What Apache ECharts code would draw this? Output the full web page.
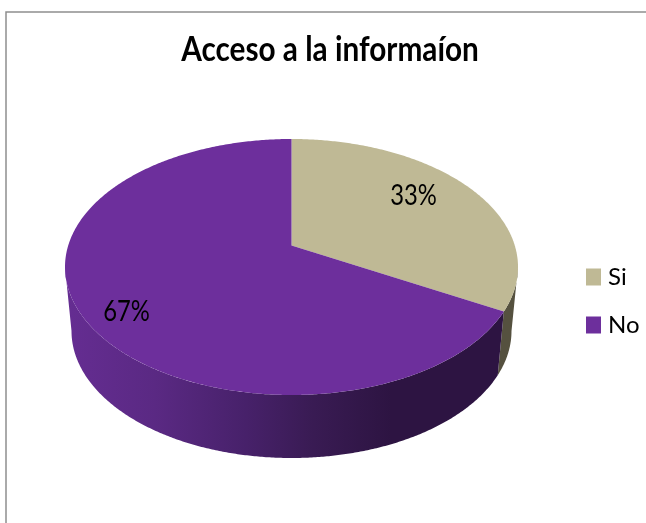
<!DOCTYPE html>
<html><head><meta charset="utf-8">
<style>html,body{margin:0;padding:0;background:#fff}#c{width:646px;height:523px}</style>
<script src="https://cdn.jsdelivr.net/npm/echarts@6/dist/echarts.min.js"></script>
</head><body><div id="c"></div>
<script>
const titleText = 'Acceso a la informaíon';
const categories = ['Si', 'No'];
const values = [33, 67];
const sliceColors = ['#BFB995', '#6D2F9C'];
const FONT = 'Lato,"Open Sans",sans-serif';

const total = values.reduce((a, b) => a + b, 0);
const top3d = { cx: 291.5, cy: 267, rx: 226.5, ry: 128 };
const base3d = { cx: 291.5, cy: 331, rx: 220, ry: 127 };
const apex = { x: 291.5, y: 245.6 };
const labelPlace = [{ r: 0.626, dy: -9 }, { r: 0.846, dy: 11 }];
const sideFill = [
  '#55513F',
  { type: 'linear', global: true, x: 65, y: 0, x2: 518, y2: 0, colorStops: [
    { offset: 0, color: '#652D92' }, { offset: 0.2, color: '#5A2983' },
    { offset: 0.4, color: '#47216A' }, { offset: 0.55, color: '#391B53' },
    { offset: 0.72, color: '#2D1442' }, { offset: 1, color: '#2D1442' }] }
];
const rad = d => d * Math.PI / 180;
// value angle (seen from the apex) -> angle along the rim of the top ellipse
function rimAngle(deg) {
  const py = (apex.y - top3d.cy) / top3d.ry;
  const dx = Math.sin(rad(deg)), dy = -Math.cos(rad(deg));
  const b = py * dy;
  const s = -b + Math.sqrt(b * b + 1 - py * py);
  const u = s * dx, v = py + s * dy;
  let t = Math.atan2(u, -v) * 180 / Math.PI;
  if (t < 0 || deg >= 360) t += 360;
  return t;
}
const pt = (e, t) => [e.cx + e.rx * Math.sin(rad(t)), e.cy - e.ry * Math.cos(rad(t))];
function arc(e, a, b) {
  const pts = [], n = Math.max(2, Math.ceil(Math.abs(b - a) * 2));
  for (let i = 0; i <= n; i++) pts.push(pt(e, a + (b - a) * i / n));
  return pts;
}
function startOf(i) { return values.slice(0, i).reduce((a, b) => a + b, 0) / total * 360; }

function renderSlice(i) {
  return function () {
    const a = startOf(i), b = a + values[i] / total * 360;
    const t0 = a === 0 ? 0 : rimAngle(a), t1 = b >= 360 ? 360 : rimAngle(b);
    const children = [];
    const s0 = Math.max(t0, 90), s1 = Math.min(t1, 270);
    if (s1 > s0) {
      children.push({ type: 'polygon',
        shape: { points: arc(top3d, s0, s1).concat(arc(base3d, s1, s0)) },
        style: { fill: sideFill[i] } });
    }
    children.push({ type: 'polygon',
      shape: { points: [[apex.x, apex.y]].concat(arc(top3d, t0, t1)) },
      style: { fill: sliceColors[i] } });
    const mid = (a + b) / 2, p = labelPlace[i];
    children.push({ type: 'text', z2: 10,
      x: apex.x + p.r * top3d.rx * Math.sin(rad(mid)),
      y: apex.y - p.r * top3d.ry * Math.cos(rad(mid)) + p.dy,
      scaleX: 0.85,
      style: {
        text: Math.round(values[i] / total * 100) + '%',
        fill: '#000', font: '28px ' + FONT, align: 'center', verticalAlign: 'middle' } });
    return { type: 'group', children };
  };
}

const chart = echarts.init(document.getElementById('c'), null, { renderer: 'canvas' });
chart.setOption({
  animation: false,
  backgroundColor: '#fff',
  legend: { orient: 'vertical', left: 586, top: 265, padding: 0, itemWidth: 15, itemHeight: 17, itemGap: 24,
    data: categories, icon: 'rect',
    textStyle: { fontFamily: FONT, fontSize: 24, color: '#000', padding: [0, 0, 0, 2] } },
  graphic: [{ type: 'polyline', silent: true,
    shape: { points: [[6, 523], [6, 12], [646, 12]] },
    style: { fill: null, stroke: '#8E8E8E', lineWidth: 1.5 } },
    { type: 'text', silent: true, x: 330, y: 50, scaleX: 0.85,
      style: { text: titleText, fill: '#000', font: 'bold 35px ' + FONT, align: 'center', verticalAlign: 'middle' } }],
  series: categories.map((name, i) => ({
    type: 'custom', name, coordinateSystem: 'none', silent: true,
    itemStyle: { color: sliceColors[i] },
    data: [values[i]],
    renderItem: renderSlice(i)
  }))
});
</script></body></html>
